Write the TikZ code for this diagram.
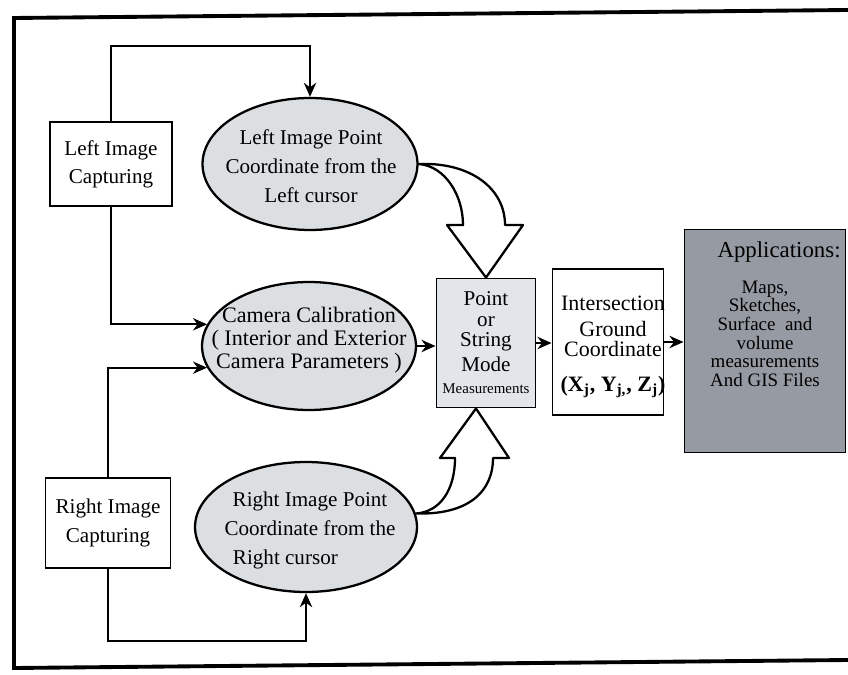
\documentclass[tikz,border=0pt]{standalone}
\usepackage{fontspec}
\setmainfont{Liberation Serif}
\usetikzlibrary{shapes.geometric,arrows.meta,positioning}
\definecolor{ovalgray}{RGB}{220,223,226}
\definecolor{modegray}{RGB}{226,230,234}
\definecolor{appsgray}{RGB}{150,155,163}

\begin{document}
\begin{tikzpicture}[x=0.02cm,y=-0.02cm,font=\rmfamily,line width=1.1pt,
	capbox/.style={draw,rectangle,fill=white,align=center,font=\fontsize{12}{16}\selectfont},
	oval/.style={draw,ellipse,fill=ovalgray,inner sep=0pt,line width=1.3pt},
	ovaltext/.style={align=center,font=\fontsize{12}{16.5}\selectfont},
	link/.style={-{Stealth[length=8pt,width=7pt]}},
	hollow/.style={draw,fill=white,line width=1.3pt,line join=round}]
	\useasboundingbox (0,0) rectangle (848,675);
	\draw[line width=2.2pt] (848,10) -- (14,18) -- (14,668) -- (848,660);
	\node[capbox,minimum width=2.44cm,minimum height=1.68cm] (lcap) at (111,164) {Left Image\\Capturing};
	\node[capbox,minimum width=2.5cm,minimum height=1.8cm] (rcap) at (108,523) {Right Image\\Capturing};
	\node[oval,minimum width=4.3cm,minimum height=2.64cm] (lpt) at (310,164) {};
	\node[ovaltext] (lpt-t) at (311,166) {Left Image Point\\Coordinate from the\\Left cursor};
	\node[oval,minimum width=4.28cm,minimum height=2.56cm] (cam) at (309,346) {};
	\node[ovaltext,font=\fontsize{12.6}{13.2}\selectfont] (cam-t) at (309,340) {Camera Calibration\\( Interior and Exterior\\Camera Parameters )};
	\node[oval,minimum width=4.44cm,minimum height=2.6cm] (rpt) at (306,527) {};
	\node[ovaltext] (rpt-t) at (310,530) {Right Image Point\\Coordinate from the\\Right cursor\hspace*{28pt}};
	\node[draw,fill=modegray,minimum width=1.98cm,minimum height=2.58cm,align=center,inner sep=0pt,
		font=\fontsize{12}{11.5}\selectfont] (pt) at (486,343)
		{Point\\or\\String\\[3pt]Mode\\[1pt]{\fontsize{8.5}{9}\selectfont Measurements}};
	\node[draw,fill=white,minimum width=2.22cm,minimum height=2.92cm] (isec) at (608,342) {};
	\node[align=center,font=\fontsize{12.5}{11}\selectfont] (isec-t) at (613,347)
		{Intersection\\[4pt]Ground\\Coordinate\\[9pt]\textbf{(X\textsubscript{j}, Y\textsubscript{j,}, Z\textsubscript{j})}};
	\node[draw,fill=appsgray,minimum width=3.22cm,minimum height=4.46cm] (apps) at (765,341) {};
	\node[align=center,font=\fontsize{10.8}{10.6}\selectfont] (apps-t) at (765,314)
		{\hspace*{16pt}{\fontsize{13}{13}\selectfont Applications:}\\[10pt]Maps,\\Sketches,\\Surface\ \ and\\volume\\measurements\\And GIS Files};
	\draw[link] (lcap.north) -- ++(0,-75) -| (lpt.north);
	\draw[link] (lcap.south) |- (cam.168);
	\draw[link] (rcap.north) |- (cam.192);
	\draw[link] (rcap.south) -- ++(0,72) -| (rpt.south);
	\draw[link] (cam.east) -- (cam.east -| pt.west);
	\draw[link] (pt.east) -- (pt.east -| isec.west);
	\draw[link] (isec.east) -- (isec.east -| apps.west);
	\draw[hollow] (lpt.east) .. controls (445,166) and (463,195) .. (463,225) -- (447,225) -- (pt.north)
		-- (523,225) -- (505,225) .. controls (505,188) and (470,162) .. (lpt.east) -- cycle;
	\draw[hollow] (rpt.7) .. controls (440,512) and (455,490) .. (455,458) -- (440,458) -- ([xshift=-0.2cm]pt.south)
		-- (509,458) -- (493,458) .. controls (493,492) and (468,515) .. (rpt.7) -- cycle;
\end{tikzpicture}
\end{document}
